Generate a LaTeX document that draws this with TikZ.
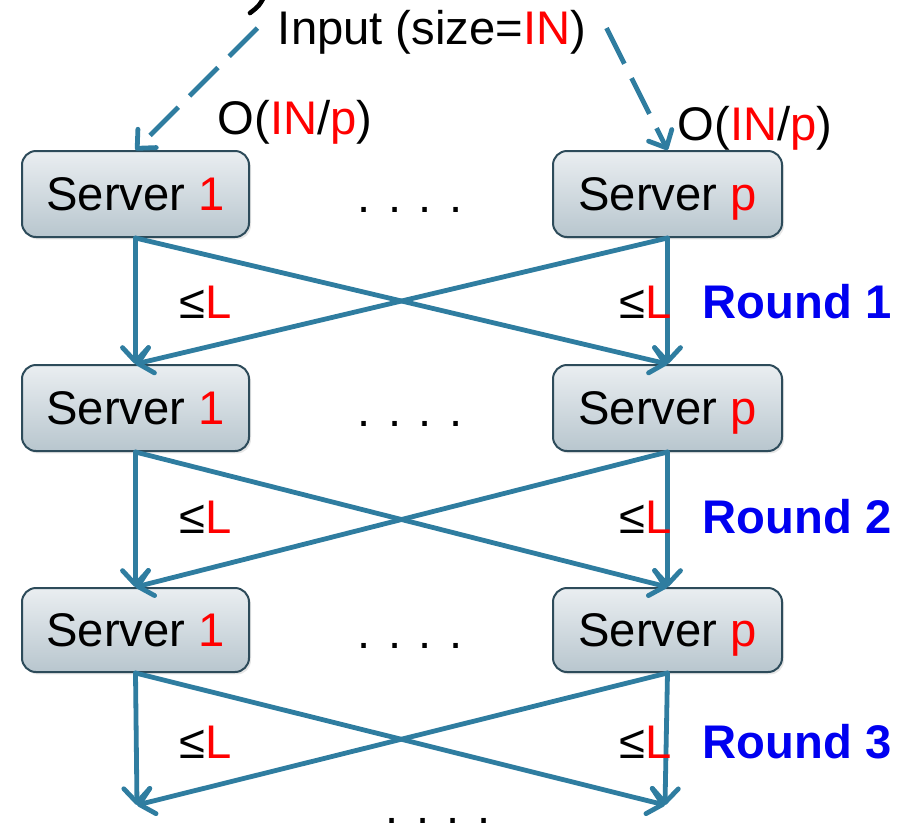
\documentclass[tikz,border=0pt]{standalone}
\usepackage{fontspec}
\setmainfont{Liberation Sans}
\usetikzlibrary{arrows.meta,shadows}
\definecolor{arr}{RGB}{47,125,160}
\definecolor{bord}{RGB}{45,75,90}
\definecolor{rd}{RGB}{255,0,0}
\definecolor{rb}{RGB}{0,0,240}
\definecolor{btop}{RGB}{234,238,241}
\definecolor{bbot}{RGB}{184,198,206}
\begin{document}
\begin{tikzpicture}[x=0.5pt,y=-0.5pt,
  lbl/.style={font=\fontsize{23.6pt}{28pt}\selectfont, inner sep=0pt},
  server/.style={lbl, draw=bord, line width=1pt, rounded corners=7pt,
    top color=btop, bottom color=bbot, minimum height=43pt,
    text height=19pt, text depth=3pt,
    drop shadow={opacity=0.2,shadow xshift=1pt,shadow yshift=-1.2pt}},
  conn/.style={draw=arr, line width=2.4pt, line cap=round,
    -{Straight Barb[length=7pt,width=13pt,line cap=round,line join=round]}},
  dconn/.style={conn, line cap=butt, dash pattern=on 20pt off 8pt},
  rnd/.style={lbl, font=\fontsize{23.6pt}{28pt}\selectfont\bfseries, text=rb},
]
\useasboundingbox (0,0) rectangle (900,827);

% stray black stroke at top
\draw[line width=2.3pt, line cap=round] (264,-3) .. controls (259,6) .. (250,13);

% input
\node[lbl] (in) at (432,32) {Input (size=\textcolor{rd}{IN})};
\node[lbl] (o1) at (295,122) {O(\textcolor{rd}{IN}/\textcolor{rd}{p})};
\node[lbl] (o2) at (755,128) {O(\textcolor{rd}{IN}/\textcolor{rd}{p})};

% servers
\node[server, minimum width=113.5pt] (a1) at (135.5,194) {Server \textcolor{rd}{1}};
\node[server, minimum width=114.5pt] (b1) at (667.5,194) {Server \textcolor{rd}{p}};
\node[server, minimum width=113.5pt] (a2) at (135.5,408) {Server \textcolor{rd}{1}};
\node[server, minimum width=114.5pt] (b2) at (667.5,408) {Server \textcolor{rd}{p}};
\node[server, minimum width=113.5pt, minimum height=42pt] (a3) at (135.5,630) {Server \textcolor{rd}{1}};
\node[server, minimum width=114.5pt, minimum height=42pt] (b3) at (667.5,630) {Server \textcolor{rd}{p}};

% dots
\node[lbl, anchor=base] (d1) at (410,212) {. . . .};
\node[lbl, anchor=base] (d2) at (410,426) {. . . .};
\node[lbl, anchor=base] (d3) at (410,648) {. . . .};
\node[lbl, anchor=base, text height=3pt, text depth=0pt] (d4) at (438,823) {. . . .};

% end coordinates
\coordinate (e1) at (137,805);
\coordinate (e2) at (665,805);

% dashed input arrows
\draw[dconn] ([xshift=-10pt,yshift=2pt]in.west) -- (a1.north);
\draw[dconn] ([xshift=10pt,yshift=2pt]in.east) -- (b1.north);

% round 1
\draw[conn] (a1.south) -- (a2.north);
\draw[conn] (b1.south) -- (b2.north);
\draw[conn] (a1.south) -- (b2.north);
\draw[conn] (b1.south) -- (a2.north);
% round 2
\draw[conn] (a2.south) -- (a3.north);
\draw[conn] (b2.south) -- (b3.north);
\draw[conn] (a2.south) -- (b3.north);
\draw[conn] (b2.south) -- (a3.north);
% round 3
\draw[conn] (a3.south) -- (e1);
\draw[conn] (b3.south) -- (e2);
\draw[conn] (a3.south) -- (e2);
\draw[conn] (b3.south) -- (e1);

% labels
\node[lbl] (l1a) at (206,302) {≤\textcolor{rd}{L}};
\node[lbl] (l1b) at (646,302) {≤\textcolor{rd}{L}};
\node[rnd] (r1) at (797,302) {Round 1};
\node[lbl] (l2a) at (206,517) {≤\textcolor{rd}{L}};
\node[lbl] (l2b) at (646,517) {≤\textcolor{rd}{L}};
\node[rnd] (r2) at (797,517) {Round 2};
\node[lbl] (l3a) at (206,742) {≤\textcolor{rd}{L}};
\node[lbl] (l3b) at (646,742) {≤\textcolor{rd}{L}};
\node[rnd] (r3) at (797,742) {Round 3};
\end{tikzpicture}
\end{document}
